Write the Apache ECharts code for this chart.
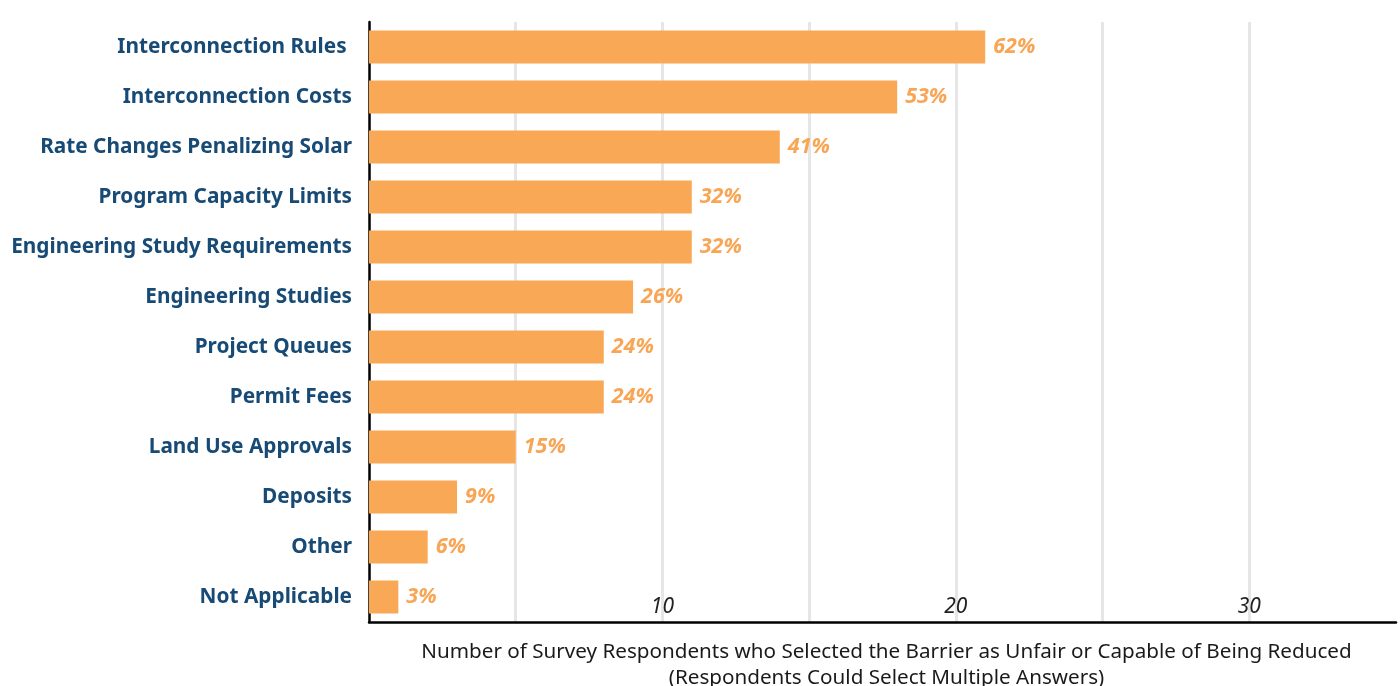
<!DOCTYPE html>
<html>
<head>
<meta charset="utf-8">
<script src="https://cdn.jsdelivr.net/npm/echarts@6/dist/echarts.min.js"></script>
<style>html,body{margin:0;padding:0;background:#fff}#c{width:1400px;height:686px}</style>
</head>
<body>
<div id="c"></div>
<script>
const categories = ['Interconnection Rules ', 'Interconnection Costs', 'Rate Changes Penalizing Solar', 'Program Capacity Limits', 'Engineering Study Requirements', 'Engineering Studies', 'Project Queues', 'Permit Fees', 'Land Use Approvals', 'Deposits', 'Other', 'Not Applicable'];
const respondents = [21, 18, 14, 11, 11, 9, 8, 8, 5, 3, 2, 1];
const percentLabels = ['62%', '53%', '41%', '32%', '32%', '26%', '24%', '24%', '15%', '9%', '6%', '3%'];
const axisTitle = 'Number of Survey Respondents who Selected the Barrier as Unfair or Capable of Being Reduced\n(Respondents Could Select Multiple Answers)';

const chart = echarts.init(document.getElementById('c'));
chart.setOption({
  animation: false,
  grid: { left: 369, right: 4, top: 22, bottom: 64, containLabel: false, outerBoundsMode: 'none' },
  xAxis: {
    type: 'value', min: 0, max: 35, interval: 5,
    name: axisTitle, nameLocation: 'middle', nameGap: 17,
    nameTextStyle: { fontFamily: 'Noto Sans', fontSize: 20.65, color: '#1a1a1a', lineHeight: 26, padding: [0, 0, 0, 8] },
    axisLine: { show: true, lineStyle: { color: '#000', width: 2.5 } },
    axisTick: { show: false },
    axisLabel: {
      inside: true, margin: 4,
      fontFamily: 'Noto Sans', fontStyle: 'italic', fontSize: 21, color: '#222',
      formatter: v => (v > 0 && v % 10 === 0) ? String(v) : ''
    },
    splitLine: { show: true, lineStyle: { width: 3, color: ['rgba(0,0,0,0)', '#e6e6e6', '#e6e6e6', '#e6e6e6', '#e6e6e6', '#e6e6e6', '#e6e6e6', 'rgba(0,0,0,0)'] } }
  },
  yAxis: {
    type: 'category', data: categories, inverse: true,
    axisLine: { show: true, lineStyle: { color: '#000', width: 2.5 } },
    axisTick: { show: false },
    axisLabel: { fontFamily: 'Noto Sans', fontWeight: 'bold', fontSize: 20.8, color: '#174a75', margin: 17, padding: [4, 0, 0, 0] }
  },
  series: [{
    type: 'bar', data: respondents, barWidth: 33,
    itemStyle: { color: '#f9a856' },
    label: {
      show: true, position: 'right', distance: 8,
      fontFamily: 'Noto Sans', fontWeight: 'bold', fontStyle: 'italic', fontSize: 21.5, color: '#f8a656',
      formatter: p => percentLabels[p.dataIndex]
    }
  }]
});
</script>
</body>
</html>
